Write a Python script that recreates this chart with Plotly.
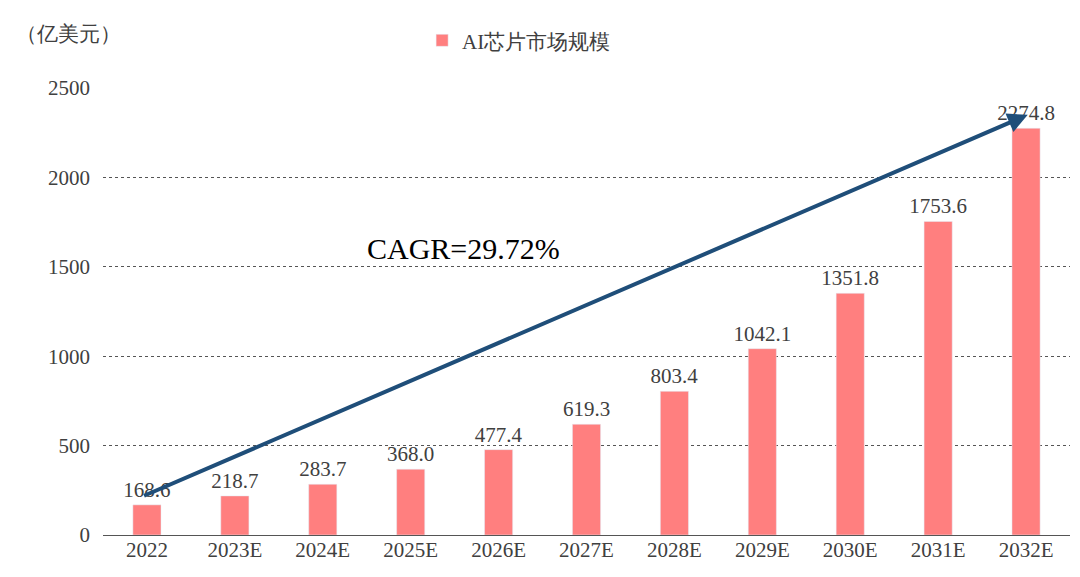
import plotly.graph_objs as go

years = ['2022', '2023E', '2024E', '2025E', '2026E', '2027E', '2028E', '2029E', '2030E', '2031E', '2032E']
market = [168.6, 218.7, 283.7, 368.0, 477.4, 619.3, 803.4, 1042.1, 1351.8, 1753.6, 2274.8]
labels = ['%.1f' % v for v in market]
idx = list(range(len(years)))

serif = 'Liberation Serif, Times New Roman, serif'

data = [go.Bar(x=idx, y=market, name='AI芯片市场规模', marker_color='#FF7F7F',
               width=0.32, text=labels, textposition='outside', constraintext='none',
               textfont=dict(size=21, color='#404040', family=serif), cliponaxis=False)]

layout = go.Layout(
    width=1080, height=577,
    margin=dict(l=95, r=18, t=76, b=50),
    plot_bgcolor='white', paper_bgcolor='white',
    font=dict(family=serif, size=20, color='#404040'),
    showlegend=True,
    legend=dict(orientation='h', x=0.33, xanchor='left', y=1.06, yanchor='bottom',
                font=dict(size=21, family=serif)),
    xaxis=dict(tickmode='array', tickvals=idx, ticktext=years, range=[-0.5, 10.5],
               showgrid=False, showline=False, ticks='', tickfont=dict(size=21)),
    yaxis=dict(range=[0, 2500], dtick=500, showgrid=True, gridcolor='#555555',
               griddash='dot', gridwidth=1, zeroline=True, zerolinecolor='#555555',
               zerolinewidth=1, tickfont=dict(size=21), ticklabelstandoff=12),
    annotations=[
        dict(text='（亿美元）', xref='paper', yref='paper', x=-0.092, y=1.09,
             xanchor='left', yanchor='bottom', showarrow=False, font=dict(size=21)),
        dict(x=10.02, y=2350, ax=-0.05, ay=216, xref='x', yref='y', axref='x', ayref='y',
             showarrow=True, arrowhead=2, arrowsize=1, arrowwidth=4, arrowcolor='#1F4E79',
             text=''),
        dict(text='CAGR=29.72%', x=3.6, y=1600, xref='x', yref='y', showarrow=False,
             font=dict(size=30, color='black', family=serif)),
    ],
)

fig = go.Figure(data=data, layout=layout)
fig.write_html("out.html")
